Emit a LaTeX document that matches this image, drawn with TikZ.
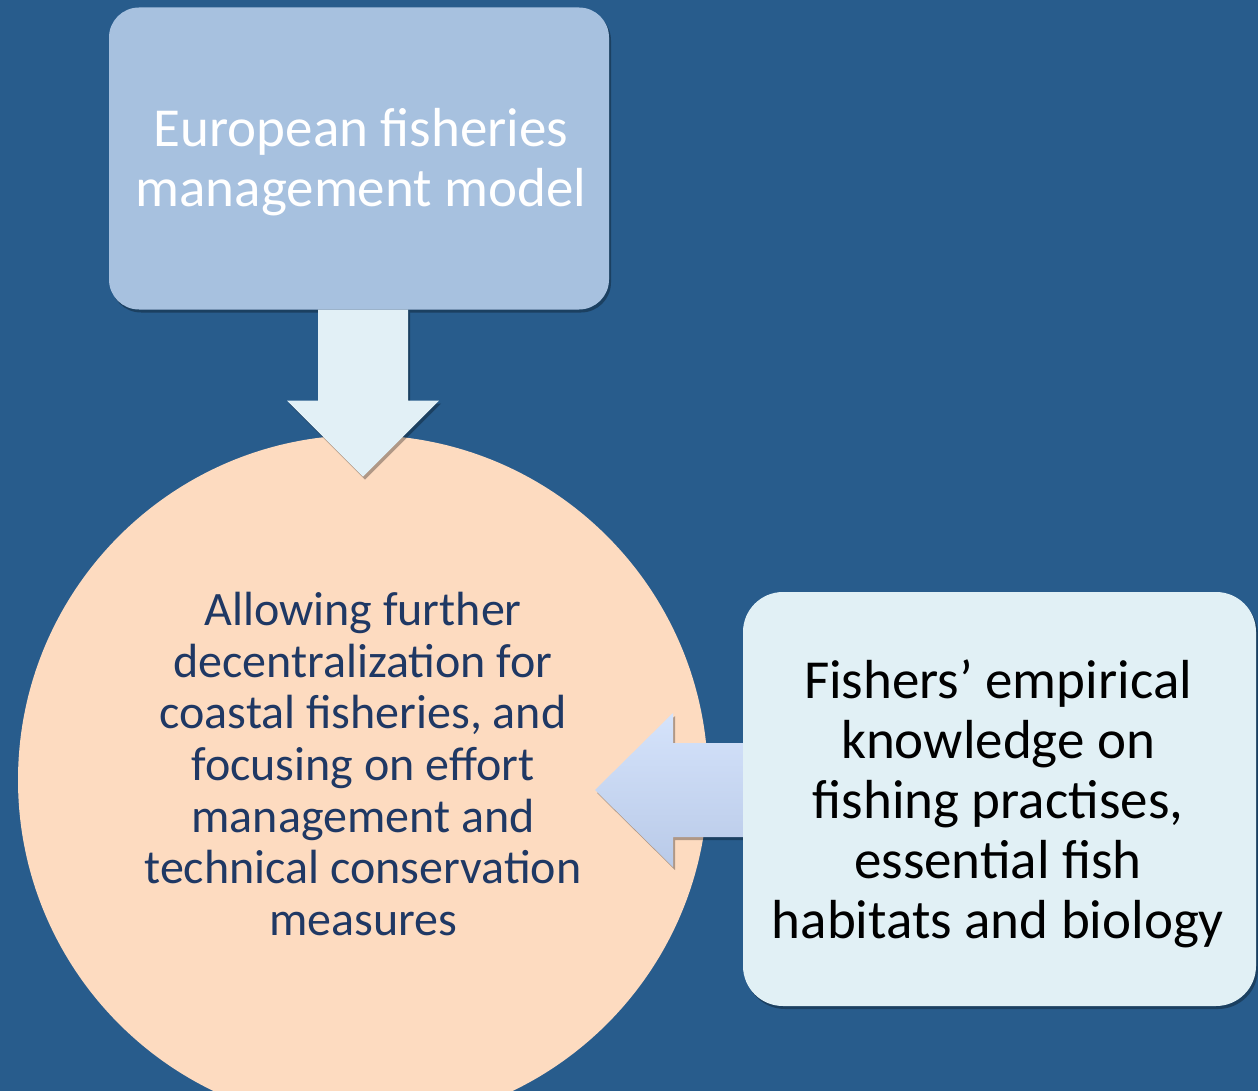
\documentclass[tikz,border=0pt]{standalone}
\usepackage{fontspec}
\setmainfont{Carlito}
\usetikzlibrary{shadows,calc}
\definecolor{bgc}{HTML}{285C8C}
\definecolor{topfill}{HTML}{A7C1DF}
\definecolor{downfill}{HTML}{E2F0F6}
\definecolor{circfill}{HTML}{FDDBC0}
\definecolor{circtext}{HTML}{1F3864}
\definecolor{rightfill}{HTML}{E1F0F5}
\definecolor{arrtop}{HTML}{D5E3FB}
\definecolor{arrbot}{HTML}{B9CAE8}
\begin{document}
\begin{tikzpicture}[x=1pt,y=-1pt,
  shd/.style={drop shadow={shadow xshift=2pt,shadow yshift=-3pt,opacity=0.3,fill=black}},
  topboxst/.style={shd,fill=topfill,rounded corners=30pt,minimum width=500pt,minimum height=302pt,
    inner sep=0pt},
  toptextst/.style={text=white,align=center,inner sep=0pt,font=\fontsize{55}{60}\selectfont},
  circst/.style={circle,fill=circfill,minimum size=690pt,inner sep=0pt},
  circtextst/.style={text=circtext,align=center,font=\fontsize{48}{51.7}\selectfont,inner sep=0pt},
  rightboxst/.style={shd,fill=rightfill,rounded corners=40pt,minimum width=513pt,minimum height=414pt,
    inner sep=0pt},
  righttextst/.style={text=black,align=center,inner sep=0pt,font=\fontsize{55}{60}\selectfont},
  downarrst/.style={shd,fill=downfill},
  leftarrst/.style={shd,top color=arrtop,bottom color=arrbot}]
\fill[bgc] (0,0) rectangle (1258,1091);
\useasboundingbox (0,0) rectangle (1258,1091);
\node[topboxst] (top) at (359,158.5) {};
\node[toptextst] (toptext) at (361,162) {European fisheries\\management model};
\node[circst] (circ) at (363,780) {};
\node[circtextst] (ctext) at (363,764) {Allowing further\\decentralization for\\coastal fisheries, and\\focusing on effort\\management and\\technical conservation\\measures};
\coordinate (dA) at (top.south -| circ.north);
\path[downarrst] ($(dA)+(-45,0)$) -- ($(dA)+(45,0)$) -- ($(dA)+(45,91)$) -- ($(dA)+(76,91)$)
  -- ($(dA)+(0,167)$) -- ($(dA)+(-76,91)$) -- ($(dA)+(-45,91)$) -- cycle;
\coordinate (rw) at (999.5,799);
\coordinate (lA) at ($(rw)+(-256.5,-9)$);
\path[leftarrst] ($(lA)+(0,-47)$) -- ($(lA)+(-70,-47)$) -- ($(lA)+(-70,-77)$) -- ($(lA)+(-148,0)$)
  -- ($(lA)+(-70,77)$) -- ($(lA)+(-70,47)$) -- ($(lA)+(0,47)$) -- cycle;
\node[rightboxst] (right) at (rw) {};
\node[righttextst] (rtext) at (998,804) {Fishers’ empirical\\knowledge on\\fishing practises,\\essential fish\\habitats and biology};
\end{tikzpicture}
\end{document}
